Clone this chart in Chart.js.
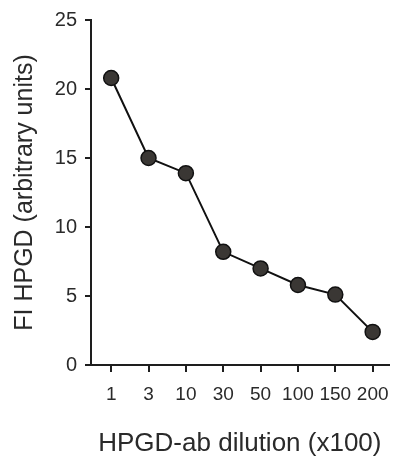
<!DOCTYPE html>
<html>
<head>
<meta charset="utf-8">
<script src="https://cdn.jsdelivr.net/npm/chart.js@4"></script>
<style>
  html, body { margin: 0; padding: 0; background: #fff; }
  #wrap { width: 400px; height: 457px; }
</style>
</head>
<body>
<div id="wrap"><canvas id="chart"></canvas></div>
<script>
// dilution categories (x100) and measured fluorescence intensity
const dilutions = ['1', '3', '10', '30', '50', '100', '150', '200'];
const fiHpgd = [20.8, 15.0, 13.9, 8.2, 7.0, 5.8, 5.1, 2.4];
const yTicks = [0, 5, 10, 15, 20, 25];

const ink = '#1e1e1e';
const txt = '#2a2a2a';
const fam = '"Liberation Sans", Arial, sans-serif';

const points = fiHpgd.map((v, i) => ({ x: i, y: v }));

new Chart(document.getElementById('chart'), {
    type: 'line',
    data: {
        datasets: [{
            data: points,
            borderColor: '#111',
            borderWidth: 2,
            backgroundColor: '#3a3734',
            pointBackgroundColor: '#3a3734',
            pointBorderColor: '#111',
            pointBorderWidth: 1.5,
            pointRadius: 7.5,
            tension: 0,
            fill: false,
        }]
    },
    options: {
        responsive: true,
        maintainAspectRatio: false,
        animation: false,
        layout: { padding: { top: 20, right: 2, left: 0, bottom: 0 } },
        plugins: {
            legend: { display: false },
            tooltip: { enabled: false },
        },
        scales: {
            x: {
                type: 'linear',
                min: -0.54,
                max: 7.43,
                afterFit: function (scale) { scale.height = 92; },
                ticks: {
                    stepSize: 1,
                    includeBounds: false,
                    autoSkip: false,
                    maxRotation: 0,
                    padding: 11,
                    color: txt,
                    font: { family: fam, size: 19 },
                    callback: function (value) { return dilutions[value]; },
                },
                grid: {
                    drawOnChartArea: false,
                    drawTicks: true,
                    tickLength: 7,
                    color: ink,
                    lineWidth: 2,
                },
                border: { display: true, color: ink, width: 2 },
                title: {
                    display: true,
                    text: 'HPGD-ab dilution (x100)',
                    color: txt,
                    font: { family: fam, size: 26, lineHeight: 1.05 },
                    padding: { top: 0, bottom: 0 },
                },
            },
            y: {
                min: 0,
                max: 25,
                afterFit: function (scale) { scale.width = 91; },
                afterBuildTicks: function (scale) {
                    scale.ticks = yTicks.map(v => ({ value: v }));
                },
                ticks: {
                    padding: 8,
                    color: txt,
                    font: { family: fam, size: 20 },
                },
                grid: {
                    drawOnChartArea: false,
                    drawTicks: true,
                    tickLength: 6,
                    color: ink,
                    lineWidth: 2,
                },
                border: { display: true, color: ink, width: 2 },
                title: {
                    display: true,
                    text: 'FI HPGD (arbitrary units)',
                    color: txt,
                    font: { family: fam, size: 25 },
                    padding: { top: 10, bottom: 0 },
                },
            },
        },
    }
});
</script>
</body>
</html>
